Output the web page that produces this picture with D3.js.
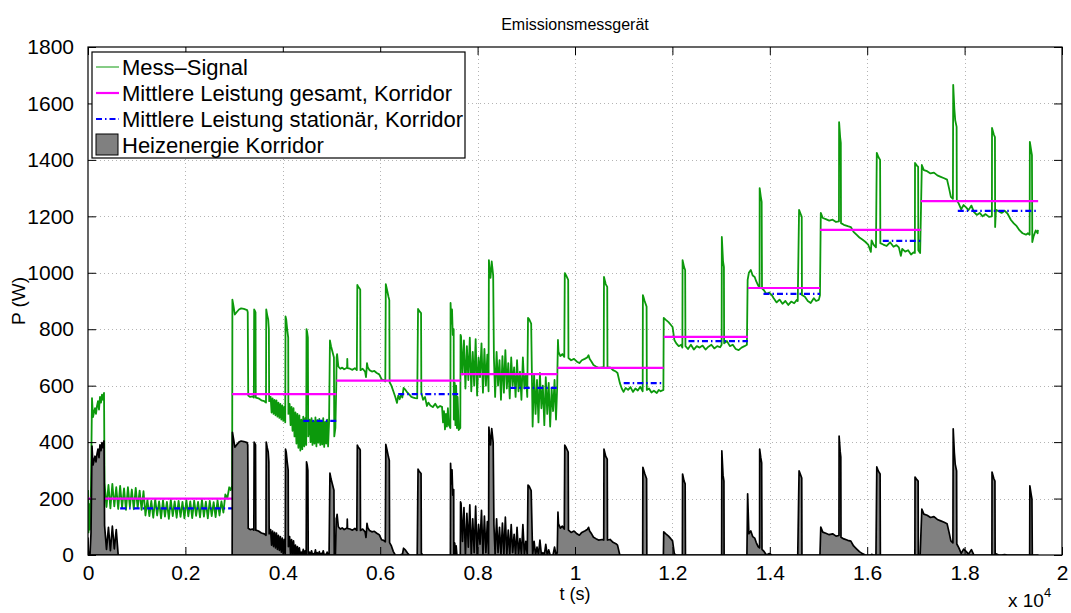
<!DOCTYPE html>
<html>
<head>
<meta charset="utf-8">
<script src="https://cdn.jsdelivr.net/npm/d3@7"></script>
<style>
  body { margin: 0; background: #fff; }
  text { font-family: "Liberation Sans", Arial, sans-serif; fill: #000; }
</style>
</head>
<body>
<svg id="chart" width="1071" height="613"></svg>
<script>
//----------------------------//
//            DATA            //
//----------------------------//
// Mess-Signal, [t (s), P (W)]
const sig0 = [[0,230],[10,80],[31,180],[41,90],[62,250],[82,556],[103,489],[123,505],[144,520],[164,500],[185,528],[205,545],[226,515],[246,560],[267,540],[287,568],[308,550],[329,574]];
const sig1 = [[340,255],[380,170],[420,248],[460,165],[500,252],[540,172],[580,240],[620,163],[660,245],[700,168],[740,236],[780,160],[820,240],[860,170],[900,232],[940,162],[980,238],[1020,166],[1060,228],[1100,160],[1140,226],[1180,140],
  [1220,196],[1260,138],[1300,192],[1340,132],[1380,198],[1420,140],[1460,190],[1500,130],[1540,194],[1580,136],[1620,188],[1660,128],[1700,196],[1740,138],[1780,190],[1820,132],[1860,192],[1900,135],[1940,188],[1980,130],[2020,195],[2060,137],[2100,190],[2140,131],[2180,193],[2220,139],[2260,188],[2300,133],[2340,196],[2380,136],[2420,189],[2460,130],[2500,192],[2540,138],[2580,187],[2620,134],[2660,194],[2700,140],[2740,190],[2780,150],[2820,215],[2860,200],[2900,240],[2930,230],[2960,245]];
const sig2 = [[2965,905],[2990,880],[3015,852],[3060,862],[3100,870],[3145,874],[3200,872],[3268,868],[3280,860],[3290,565],[3330,560],[3380,562],[3405,558],[3412,870],[3425,866],[3440,860],[3445,558],[3500,555],[3560,548],[3620,545],[3655,540],[3660,870],[3680,850],[3700,835],[3714,800],[3720,545],
  [3750,560],[3770,505],[3790,555],[3810,500],[3830,550],[3850,495],[3870,548],[3890,490],[3910,540],[3930,486],[3950,535],[3970,480],[3990,530],[4010,475],[4030,525],[4050,470],[4056,845],[4070,835],[4090,800],[4111,770],[4115,500],
  [4140,535],[4160,460],[4180,525],[4200,440],[4220,520],[4240,420],[4260,505],[4280,395],[4300,500],[4320,380],[4340,495],[4360,370],[4380,480],[4400,375],[4420,490],[4440,385],[4460,485],[4480,390],[4487,800],[4500,790],[4515,770],[4522,420],
  [4550,480],[4570,400],[4590,485],[4610,390],[4630,475],[4650,395],[4670,488],[4690,385],[4710,478],[4730,398],[4750,482],[4770,390],[4790,476],[4810,392],[4830,485],[4850,383],[4870,472],[4890,395],[4910,480],[4930,385],[4950,470],[4968,760],[4990,740],[5020,720],[5050,700],[5057,420],[5080,450],[5098,600]];
const sig3 = [[5105,700],[5115,712],[5140,668],[5180,660],[5220,664],[5260,658],[5300,662],[5320,665],[5324,695],[5330,662],[5380,660],[5430,656],[5480,662],[5520,655],[5530,957],[5550,950],[5575,945],[5590,940],[5595,655],[5640,660],[5690,650],[5708,630],[5720,655],[5729,680],[5745,665],[5780,655],[5830,650],[5880,652],[5930,645],[5980,640],[6030,622],[6070,620],[6105,615],[6115,960],[6140,940],[6170,915],[6187,903],[6193,612],
  [6230,600],[6270,580],[6310,560],[6345,539],[6370,565],[6400,552],[6430,570],[6454,558],[6480,592],[6520,585],[6560,575],[6600,568],[6640,560],[6680,558],[6720,556],[6760,555],[6777,872],[6800,865],[6839,857],[6845,574],[6880,550],[6920,560],[6960,528],[6989,540],[7030,530],[7080,524],[7130,536],[7180,522],[7230,528],[7270,525],
  [7290,470],[7310,510],[7330,445],[7350,500],[7370,455],[7390,520],[7410,460],[7441,450],[7445,893],[7460,820],[7475,870],[7490,780],[7509,800],[7512,480],[7530,610],[7545,460],[7560,600],[7575,450],[7590,560],[7612,443],[7645,450]];
const sig4 = [[7650,780],[7660,775],[7690,640],[7720,760],[7750,590],[7780,740],[7810,620],[7840,770],[7870,580],[7900,720],[7930,600],[7960,765],[7990,565],[8020,700],[8050,630],[8080,750],[8110,575],[8140,730],[8170,600],[8200,710],[8225,580],[8232,1045],[8250,1000],[8265,982],[8290,1040],[8320,990],[8335,700],
  [8360,560],[8390,720],[8420,600],[8450,690],[8480,550],[8510,705],[8540,575],[8570,726],[8600,590],[8630,680],[8660,555],[8690,700],[8720,600],[8750,665],[8780,560],[8810,690],[8840,580],[8870,650],[8900,550],[8930,700],[8960,590],[8990,640],[9020,560],[9035,840],[9060,835],[9100,820],[9130,455],
  [9160,640],[9190,500],[9220,620],[9250,470],[9280,645],[9310,520],[9340,600],[9370,460],[9400,630],[9430,500],[9460,610],[9490,455],[9520,590],[9550,510],[9580,620],[9610,480],[9635,600]];
const sig5 = [[9640,666],[9650,762],[9661,720],[9700,705],[9740,712],[9780,702],[9790,999],[9820,990],[9860,975],[9866,698],[9920,690],[9980,695],[10040,685],[10090,680],[10140,690],[10200,695],[10250,700],[10278,708],[10300,695],[10340,685],[10380,673],[10430,668],[10483,663],[10560,665],[10590,663],[10595,985],[10630,960],[10662,950],[10667,663],
  [10720,665],[10780,655],[10840,650],[10873,645],[10920,610],[10960,590],[10997,578],[11040,592],[11090,585],[11140,595],[11190,578],[11240,590],[11290,583],[11340,596],[11390,580],[11394,921],[11430,900],[11470,880],[11475,585],[11520,590],[11570,576],[11620,582],[11680,574],[11720,585],[11758,580],[11815,585]];
const sig6 = [[11822,840],[11866,833],[11920,825],[11970,815],[12003,808],[12040,762],[12080,750],[12130,740],[12180,745],[12205,735],[12209,1045],[12240,1020],[12262,1010],[12268,740],[12320,730],[12380,745],[12440,728],[12500,740],[12560,735],[12620,742],[12680,728],[12740,738],[12800,745],[12860,732],[12920,740],[12980,736],[13011,745],[13015,1127],[13040,1040],[13058,1020],[13062,750],[13120,758],[13180,740],[13240,745],[13300,730],[13360,726],[13420,735],[13480,740],[13530,745]];
const sig7 = [[13545,975],[13570,1000],[13610,1010],[13650,990],[13690,985],[13720,970],[13760,955],[13790,950],[13792,1300],[13815,1270],[13833,1251],[13840,945],[13875,939],[13930,925],[13990,930],[14040,921],[14080,910],[14140,895],[14200,905],[14260,890],[14320,900],[14380,886],[14440,898],[14500,892],[14560,905],[14574,900],[14601,1223],[14630,1210],[14656,1198],[14660,921],[14720,915],[14780,900],[14840,893],[14903,910],[14950,900],[15006,904],[15030,920]];
const sig8 = [[15047,1212],[15088,1194],[15150,1190],[15220,1185],[15290,1188],[15360,1180],[15420,1182],[15423,1534],[15445,1480],[15458,1460],[15462,1176],[15520,1170],[15600,1165],[15664,1162],[15720,1145],[15780,1135],[15840,1125],[15900,1118],[15960,1110],[16020,1100],[16075,1074],[16090,1115],[16130,1100],[16180,1090],[16197,1425],[16230,1410],[16265,1400],[16270,1105],[16330,1100],[16400,1095],[16470,1108],[16540,1092],[16600,1098],[16650,1090],[16691,1060],[16720,1085],[16780,1075],[16840,1080],[16900,1065],[16950,1072],[16979,1070],[16982,1389],[17020,1380],[17046,1375],[17050,1080],[17087,1070]];
const sig9 = [[17122,1382],[17163,1364],[17230,1360],[17300,1352],[17370,1355],[17440,1345],[17510,1340],[17580,1335],[17640,1330],[17680,1300],[17718,1269],[17760,1262],[17766,1666],[17790,1580],[17807,1541],[17836,1517],[17840,1258],[17880,1245],[17930,1225],[17980,1240],[18030,1232],[18080,1222],[18140,1238],[18191,1216],[18250,1205],[18310,1212],[18370,1200],[18430,1208],[18500,1198],[18561,1200],[18563,1513],[18600,1490],[18623,1481],[18627,1162],[18643,1223],[18700,1218],[18760,1212],[18820,1220],[18880,1210],[18952,1187],[19010,1175],[19070,1165],[19130,1150],[19190,1140],[19260,1135],[19300,1140],[19336,1135],[19340,1464],[19370,1430],[19383,1417],[19390,1109],[19418,1130],[19460,1150],[19500,1140],[19506,1152]];

// Mittlere Leistung gesamt, Korridor: [t start, t end, P]
const meanTotal = [[0,2960,200],[2960,5100,570],[5100,7650,618],[7650,9640,641],[9640,11820,663],[11820,13550,773],[13550,15030,946],[15030,17100,1152],[17100,19510,1254]];
// Mittlere Leistung stationaer, Korridor: [t start, t end, P]
const meanStat = [[660,2960,165],[4420,5100,475],[6370,7650,570],[8670,9640,592],[11000,11820,609],[12330,13550,758],[13870,15030,925],[16320,17100,1113],[17860,19510,1219]];
// reference level the heating energy is measured above: [t start, P]
const heatBase = [[0,170],[330,150],[620,260],[2960,470],[5100,568],[7650,592],[9640,610],[11820,758],[13550,925],[15030,1113],[17100,1219]];

const xTicks = [0,2000,4000,6000,8000,10000,12000,14000,16000,18000,20000];
const yTicks = [0,200,400,600,800,1000,1200,1400,1600,1800];

const legendLabels = ["Mess\u2013Signal", "Mittlere Leistung gesamt, Korridor", "Mittlere Leistung station\u00e4r, Korridor", "Heizenergie Korridor"];

//----------------------------//
//           PLOT             //
//----------------------------//
const signal = [].concat(sig0, sig1, sig2, sig3, sig4, sig5, sig6, sig7, sig8, sig9);

const baseAt = (t) => {
    let b = heatBase[0][1];
    heatBase.forEach(([ts, v]) => { if (t >= ts) b = v; });
    return b;
};
const heat = signal.map(([t, p]) => [t, Math.max(0, p - baseAt(t))]);

const margin = { top: 47, right: 9, bottom: 58, left: 88 };
const width = 1071 - margin.left - margin.right;
const height = 613 - margin.top - margin.bottom;
const fontFam = '"Liberation Sans", Arial, sans-serif';

const svg = d3.select('#chart');

const g = svg.append('g').attr('transform', `translate(${margin.left},${margin.top})`);

const x = d3.scaleLinear().domain([0, 20000]).range([0, width]);
const y = d3.scaleLinear().domain([0, 1800]).range([height, 0]);

svg.append('defs').append('clipPath').attr('id', 'clip')
    .append('rect').attr('width', width).attr('height', height);

// grid
const grid = g.append('g').attr('stroke', '#b4b4b4').attr('stroke-width', 1).attr('stroke-dasharray', '1,3');
grid.selectAll('.gx').data(xTicks.slice(1, -1)).enter().append('line')
    .attr('x1', d => Math.round(x(d)) + 0.5).attr('x2', d => Math.round(x(d)) + 0.5)
    .attr('y1', 0).attr('y2', height);
grid.selectAll('.gy').data(yTicks.slice(1, -1)).enter().append('line')
    .attr('y1', d => Math.round(y(d)) + 0.5).attr('y2', d => Math.round(y(d)) + 0.5)
    .attr('x1', 0).attr('x2', width);

const plot = g.append('g').attr('clip-path', 'url(#clip)');

// Mess-Signal
const line = d3.line().x(d => x(d[0])).y(d => y(d[1]));
plot.append('path').datum(signal)
    .attr('fill', 'none').attr('stroke', '#0c990c').attr('stroke-width', 1.8)
    .attr('stroke-linejoin', 'round')
    .attr('d', line);

// mean lines
plot.selectAll('.mt').data(meanTotal).enter().append('line')
    .attr('x1', d => x(d[0])).attr('x2', d => x(d[1]))
    .attr('y1', d => y(d[2])).attr('y2', d => y(d[2]))
    .attr('stroke', '#ff00ff').attr('stroke-width', 2.2);

plot.selectAll('.ms').data(meanStat).enter().append('line')
    .attr('x1', d => x(d[0])).attr('x2', d => x(d[1]))
    .attr('y1', d => y(d[2])).attr('y2', d => y(d[2]))
    .attr('stroke', '#0000ff').attr('stroke-width', 2.2)
    .attr('stroke-dasharray', '6,3,1.5,3');

// Heizenergie
const area = d3.area().x(d => x(d[0])).y0(y(0)).y1(d => y(d[1]));
plot.append('path').datum(heat)
    .attr('fill', '#808080').attr('stroke', '#000').attr('stroke-width', 1.7)
    .attr('stroke-linejoin', 'round')
    .attr('d', area);

// axes (box with inner ticks)
const tickLen = 8;
const fmtX = d => d3.format('~g')(d / 10000);

g.append('g').attr('transform', `translate(0,${height})`)
    .call(d3.axisBottom(x).tickValues(xTicks).tickSize(-tickLen).tickPadding(tickLen + 2).tickFormat(fmtX))
    .call(a => a.select('.domain').remove())
    .call(a => a.selectAll('text').attr('font-size', 21).attr('font-family', fontFam));
g.append('g')
    .call(d3.axisTop(x).tickValues(xTicks).tickSize(-tickLen).tickFormat(''))
    .call(a => a.select('.domain').remove());
g.append('g')
    .call(d3.axisLeft(y).tickValues(yTicks).tickSize(-tickLen).tickPadding(tickLen + 6).tickFormat(d3.format('d')))
    .call(a => a.select('.domain').remove())
    .call(a => a.selectAll('text').attr('font-size', 21).attr('font-family', fontFam));
g.append('g').attr('transform', `translate(${width},0)`)
    .call(d3.axisRight(y).tickValues(yTicks).tickSize(-tickLen).tickFormat(''))
    .call(a => a.select('.domain').remove());

g.append('rect').attr('width', width).attr('height', height)
    .attr('fill', 'none').attr('stroke', '#000').attr('stroke-width', 1.2);

// titles
svg.append('text').attr('x', margin.left + width / 2).attr('y', 30)
    .attr('text-anchor', 'middle').attr('font-size', 16).text('Emissionsmessger\u00e4t');
svg.append('text').attr('x', margin.left + width / 2).attr('y', 600)
    .attr('text-anchor', 'middle').attr('font-size', 18).text('t (s)');
svg.append('text').attr('transform', `translate(25,${margin.top + height / 2}) rotate(-90)`)
    .attr('text-anchor', 'middle').attr('font-size', 19).text('P (W)');
const expo = svg.append('text').attr('x', 1008).attr('y', 607).attr('font-size', 19);
expo.append('tspan').text('x 10');
expo.append('tspan').attr('dy', -10).attr('font-size', 13).text('4');

// legend
const lg = svg.append('g').attr('transform', 'translate(92,52)');
lg.append('rect').attr('width', 373).attr('height', 106)
    .attr('fill', '#fff').attr('stroke', '#000').attr('stroke-width', 1.2);
const rowY = [15, 41, 67, 93];
lg.append('line').attr('x1', 4).attr('x2', 27).attr('y1', rowY[0]).attr('y2', rowY[0])
    .attr('stroke', '#0c990c').attr('stroke-width', 1);
lg.append('line').attr('x1', 4).attr('x2', 27).attr('y1', rowY[1]).attr('y2', rowY[1])
    .attr('stroke', '#ff00ff').attr('stroke-width', 2.2);
lg.append('line').attr('x1', 4).attr('x2', 27).attr('y1', rowY[2]).attr('y2', rowY[2])
    .attr('stroke', '#0000ff').attr('stroke-width', 2.2).attr('stroke-dasharray', '6,3,1.5,3');
lg.append('rect').attr('x', 4).attr('y', rowY[3] - 11).attr('width', 22).attr('height', 21)
    .attr('fill', '#808080').attr('stroke', '#000').attr('stroke-width', 1);
lg.selectAll('.lt').data(legendLabels).enter().append('text')
    .attr('x', 30).attr('y', (d, i) => rowY[i]).attr('dy', '0.36em')
    .attr('font-size', 22).text(d => d);
</script>
</body>
</html>
